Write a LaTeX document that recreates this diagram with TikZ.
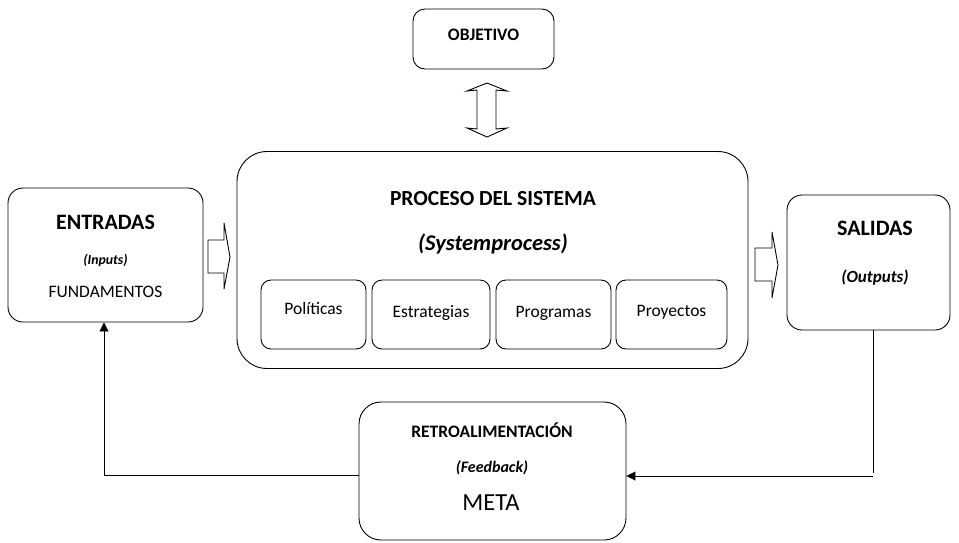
\documentclass[tikz,border=0pt]{standalone}
\usepackage{fontspec}
\setmainfont{Carlito}
\usetikzlibrary{arrows.meta}
\newcommand\fsz[1]{\fontsize{#1}{#1}\selectfont}
\tikzset{
  box/.style={draw, line width=0.9pt, rounded corners=#1, inner sep=0pt},
  box/.default=15pt,
  tip/.style={-{Triangle[length=9pt,width=9pt]}, line width=0.9pt},
  fat/.style={draw, line width=0.9pt, fill=white, line join=miter},
}
\begin{document}
\begin{tikzpicture}[x=1pt,y=-1pt]
\useasboundingbox (0,0) rectangle (959,542);
% main boxes
\node[box=12pt, minimum width=141pt, minimum height=60pt] (objetivo) at (483.5,39) {};
\node[box, minimum width=195pt, minimum height=134pt] (entradas) at (105.5,255) {};
\node[box=30pt, minimum width=511pt, minimum height=217pt] (proceso) at (492.5,260) {};
\node[box, minimum width=163pt, minimum height=135pt] (salidas) at (868.5,262.5) {};
\node[box=22pt, minimum width=267pt, minimum height=138pt] (retro) at (492.5,471) {};
% texts
\node[font=\fsz{17.5}\bfseries] (objetivo-t) at (483.5,35) {OBJETIVO};
\node[font=\fsz{22}\bfseries] (entradas-t) at (105.5,222) {ENTRADAS};
\node[font=\fsz{13.8}\bfseries\itshape] (entradas-i) at (105.5,260) {(Inputs)};
\node[font=\fsz{17.5}] (entradas-f) at (105.5,292) {FUNDAMENTOS};
\node[font=\fsz{21.5}\bfseries] (proceso-t) at (493,199) {PROCESO DEL SISTEMA};
\node[font=\fsz{22.5}\bfseries\itshape] (proceso-i) at (493,244) {(Systemprocess)};
\node[font=\fsz{22}\bfseries] (salidas-t) at (875,228) {SALIDAS};
\node[font=\fsz{17}\bfseries\itshape] (salidas-i) at (875,278) {(Outputs)};
\node[font=\fsz{17.5}\bfseries] (retro-t) at (492,430) {RETROALIMENTACIÓN};
\node[font=\fsz{16}\bfseries\itshape] (retro-i) at (492,468) {(Feedback)};
\node[font=\fsz{24.5}] (retro-m) at (491,503) {META};
% inner boxes
\foreach \nm/\x/\w/\txt/\dy in {pol/313.5/105/Políticas/-6, est/431/118/Estrategias/-1.5,
    prg/553.5/115/Programas/-1.5, pry/671.5/111/Proyectos/-2}
{
  \node[box=10pt, minimum width=\w pt, minimum height=69pt] (\nm) at (\x,314.5) {};
  \node[font=\fsz{17.5}] (\nm-t) at (\x,314.5+\dy) {\txt};
}
% fat arrows
\draw[fat] (477,90) -- (467,91) -- (487,83) -- (507,91) -- (496,90) -- (496,129)
  -- (507,128) -- (487,137) -- (467,128) -- (477,129) -- cycle;
\draw[fat] (208,240) -- (224,240) -- (224,223) -- (230,257) -- (224,289) -- (224,273) -- (208,273) -- cycle;
\draw[fat] (755,248) -- (772,248) -- (772,232) -- (778,265) -- (772,298) -- (772,281) -- (755,281) -- cycle;
% feedback loop
\coordinate (fbr) at (873,476);
\coordinate (fbl) at (104,475);
\draw[line width=0.9pt] (salidas.south -| fbr) -- ([yshift=3pt]fbr);
\draw[tip] (fbr) -- (retro.east |- fbr);
\draw[line width=0.9pt] (retro.west |- fbl) -- (fbl);
\draw[tip] (fbl) -- (entradas.south -| fbl);
\end{tikzpicture}
\end{document}
